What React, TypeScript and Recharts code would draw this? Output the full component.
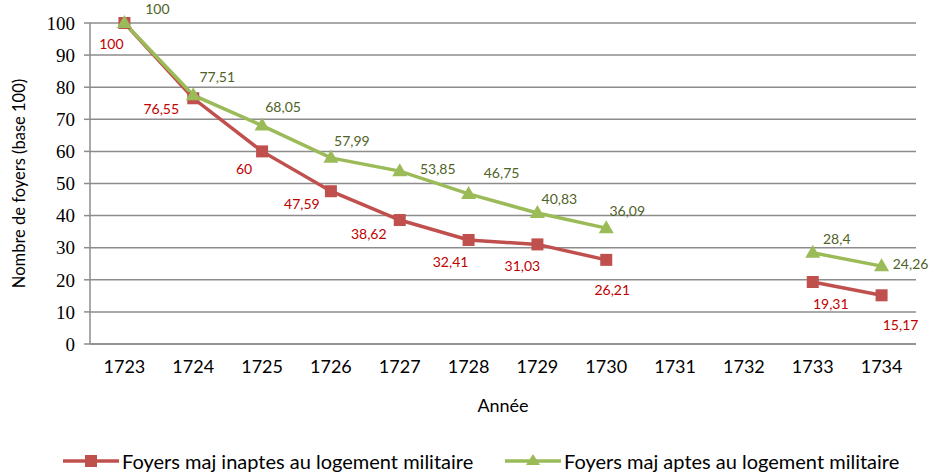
import React from "react";
import { LineChart, Line, XAxis, YAxis, CartesianGrid, Legend, LabelList } from "recharts";

const YEARS = [1723, 1724, 1725, 1726, 1727, 1728, 1729, 1730, 1731, 1732, 1733, 1734];
const INAPTES = [100, 76.55, 60, 47.59, 38.62, 32.41, 31.03, 26.21, null, null, 19.31, 15.17];
const APTES = [100, 77.51, 68.05, 57.99, 53.85, 46.75, 40.83, 36.09, null, null, 28.4, 24.26];
const Y_TICKS = [0, 10, 20, 30, 40, 50, 60, 70, 80, 90, 100];
const NAME_INAPTES = "Foyers maj inaptes au logement militaire";
const NAME_APTES = "Foyers maj aptes au logement militaire";

// tick marks sit between the years, like the original
const BOUNDS = [...YEARS.map((y) => y - 0.5), YEARS[YEARS.length - 1] + 0.5];

// hand-placed label offsets (dx, dy) from each point
const RED_OFFSETS = [[-13, 20], [-32, 10], [-18, 17], [-29, 12], [-31, 13], [-18, 22], [-15, 21], [6, 30], [0, 0], [0, 0], [18, 21], [19, 29]];
const GREEN_OFFSETS = [[33, -15], [24, -19], [21, -19], [21, -17], [38, -3], [33, -21], [22, -14], [21, -18], [0, 0], [0, 0], [24, -14], [29, -3]];

const RED = "#C0504D";
const RED_TEXT = "#C00000";
const GREEN = "#9BBB59";
const GREEN_TEXT = "#4F6228";
const GRID = "#8C8C8C";
const SANS = "Lato, 'Liberation Sans', sans-serif";

const data = YEARS.map((year, i) => ({ year, inaptes: INAPTES[i], aptes: APTES[i] }));

const fmt = (v: number) => String(v).replace(".", ",");

const makeLabel = (offsets: number[][], color: string) => (props: any) => {
  const { x, y, value, index } = props;
  if (value == null || x == null || y == null) return null;
  const [dx, dy] = offsets[index] || [0, 0];
  return (
    <text
      key={`l-${index}`}
      x={x + dx}
      y={y + dy}
      textAnchor="middle"
      dominantBaseline="central"
      fill={color}
      fontSize={14}
      fontFamily={SANS}
    >
      {fmt(value)}
    </text>
  );
};

const Square = (props: any) => {
  const { cx, cy, index, value } = props;
  if (value == null || cx == null) return <g key={`s-${index}`} />;
  return <rect key={`s-${index}`} x={cx - 6} y={cy - 6} width={12} height={12} fill={RED} />;
};

const Triangle = (props: any) => {
  const { cx, cy, index, value } = props;
  if (value == null || cx == null) return <g key={`t-${index}`} />;
  return (
    <polygon
      key={`t-${index}`}
      points={`${cx},${cy - 8} ${cx + 7.5},${cy + 5} ${cx - 7.5},${cy + 5}`}
      fill={GREEN}
    />
  );
};

const LegendIcon = ({ color, shape }: { color: string; shape: "square" | "triangle" }) => (
  <svg width={56} height={14} style={{ display: "block" }}>
    <line x1={0} y1={7} x2={56} y2={7} stroke={color} strokeWidth={3.5} />
    {shape === "square" ? (
      <rect x={22} y={1} width={12} height={12} fill={color} />
    ) : (
      <polygon points="28,0 35,11 21,11" fill={color} />
    )}
  </svg>
);

const renderLegend = () => (
  <div style={{ position: "relative", height: 59, fontFamily: SANS, fontSize: 20, lineHeight: "20px", color: "#000" }}>
    <div style={{ position: "absolute", left: 63, top: 37, display: "flex", alignItems: "center" }}>
      <LegendIcon color={RED} shape="square" />
      <span style={{ marginLeft: 3, whiteSpace: "nowrap" }}>{NAME_INAPTES}</span>
    </div>
    <div style={{ position: "absolute", left: 505, top: 37, display: "flex", alignItems: "center" }}>
      <LegendIcon color={GREEN} shape="triangle" />
      <span style={{ marginLeft: 3, whiteSpace: "nowrap" }}>{NAME_APTES}</span>
    </div>
  </div>
);

export default function App() {
  return (
    <div style={{ position: "absolute", left: 0, top: 0, background: "#fff" }}>
      <LineChart width={930} height={473} data={data} margin={{ top: 23, right: 14, left: 0, bottom: 0 }}>
        <CartesianGrid vertical={false} stroke={GRID} strokeWidth={1.5} xAxisId="main" />
        <XAxis
          xAxisId="main"
          dataKey="year"
          type="number"
          domain={[1722.5, 1734.5]}
          ticks={YEARS}
          interval={0}
          tickLine={false}
          axisLine={{ stroke: GRID, strokeWidth: 1.5 }}
          tickSize={6}
          tickMargin={10}
          height={70}
          tick={{ fontFamily: SANS, fontSize: 18, fill: "#000" }}
          label={{ value: "Année", position: "insideBottom", offset: 2, fontFamily: SANS, fontSize: 18, fill: "#000" }}
        />
        <XAxis
          xAxisId="bounds"
          dataKey="year"
          type="number"
          domain={[1722.5, 1734.5]}
          ticks={BOUNDS}
          interval={0}
          tick={false}
          tickLine={{ stroke: GRID, strokeWidth: 1.5 }}
          tickSize={7}
          axisLine={false}
          height={0}
        />
        <YAxis
          domain={[0, 100]}
          ticks={Y_TICKS}
          interval={0}
          width={90}
          tickSize={6}
          tickMargin={9}
          axisLine={{ stroke: GRID, strokeWidth: 1.5 }}
          tickLine={{ stroke: GRID, strokeWidth: 1.5 }}
          tick={{ fontFamily: "'Liberation Serif', serif", fontSize: 19, fill: "#000" }}
          label={{
            value: "Nombre de foyers (base 100)",
            angle: -90,
            position: "insideLeft",
            offset: 19,
            style: { textAnchor: "middle" },
            fontFamily: SANS,
            fontSize: 16.5,
            fill: "#000",
          }}
        />
        <Legend verticalAlign="bottom" content={renderLegend} />
        <Line
          xAxisId="main"
          name={NAME_INAPTES}
          dataKey="inaptes"
          stroke={RED}
          strokeWidth={3.5}
          dot={Square}
          activeDot={false}
          connectNulls={false}
          isAnimationActive={false}
        >
          <LabelList dataKey="inaptes" content={makeLabel(RED_OFFSETS, RED_TEXT)} />
        </Line>
        <Line
          xAxisId="main"
          name={NAME_APTES}
          dataKey="aptes"
          stroke={GREEN}
          strokeWidth={3.5}
          dot={Triangle}
          activeDot={false}
          connectNulls={false}
          isAnimationActive={false}
        >
          <LabelList dataKey="aptes" content={makeLabel(GREEN_OFFSETS, GREEN_TEXT)} />
        </Line>
      </LineChart>
    </div>
  );
}
